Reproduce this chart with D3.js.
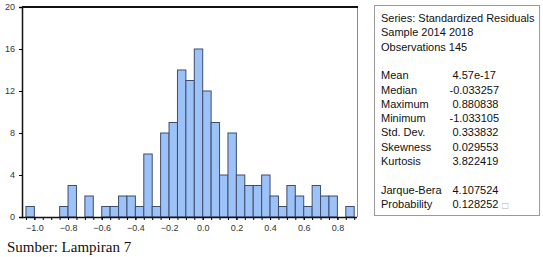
<!DOCTYPE html>
<html>
<head>
<meta charset="utf-8">
<script src="https://cdnjs.cloudflare.com/ajax/libs/d3/7.8.5/d3.min.js"></script>
<style>
  body { margin: 0; background: #fff; }
  svg { display: block; }
</style>
</head>
<body>
<div class="hist"></div>
<script>
// bin lower edges (width 0.05) and counts
var binStart = -1.05, binWidth = 0.05
var counts = [1, 0, 0, 0, 1, 3, 0, 2, 0, 1, 1, 2, 2, 1, 6, 1, 8, 9, 14, 13,
  16, 12, 9, 4, 8, 4, 3, 3, 4, 2, 1, 3, 2, 1, 3, 2, 2, 0, 1]
var yTicks = [0, 4, 8, 12, 16, 20]
var xTicks = [-1.0, -0.8, -0.6, -0.4, -0.2, 0.0, 0.2, 0.4, 0.6, 0.8]

var headerLines = ["Series: Standardized Residuals", "Sample 2014 2018", "Observations 145"]
var statNames = ["Mean", "Median", "Maximum", "Minimum", "Std. Dev.", "Skewness", "Kurtosis", "", "Jarque-Bera", "Probability"]
var statValues = ["4.57e-17", "-0.033257", "0.880838", "-1.033105", "0.333832", "0.029553", "3.822419", "", "4.107524", "0.128252"]

document.addEventListener("DOMContentLoaded", draw)

function draw() {
  var width = 543, height = 257

  var svg = d3.select(".hist").append("svg")
    .attr("width", width)
    .attr("height", height)

  var bins = counts.map((c, i) => {
    return { x0: binStart + i * binWidth, x1: binStart + (i + 1) * binWidth, count: c }
  })

  var x = d3.scaleLinear()
    .domain([-1.0735, 0.9165])
    .range([22, 357])
  var y = d3.scaleLinear()
    .domain([0, 20])
    .range([217, 7])

  // bars
  svg.append("g")
    .selectAll("rect")
    .data(bins.filter(d => d.count > 0))
    .enter().append("rect")
    .attr("x", d => x(d.x0))
    .attr("y", d => y(d.count))
    .attr("width", d => x(d.x1) - x(d.x0))
    .attr("height", d => y(0) - y(d.count))
    .attr("fill", "#9cc2f7")
    .attr("stroke", "#3f4d6e")
    .attr("stroke-width", 1)

  // frame
  svg.append("line")
    .attr("x1", 357.5).attr("x2", 357.5)
    .attr("y1", y(20)).attr("y2", y(0))
    .attr("stroke", "#8a8a8a")
  svg.append("line")
    .attr("x1", 22).attr("x2", 358)
    .attr("y1", y(20)).attr("y2", y(20))
    .attr("stroke", "#111").attr("stroke-width", 2)

  // y axis
  var yAxis = svg.append("g")
    .attr("transform", "translate(22,0)")
    .call(d3.axisLeft(y).tickValues(yTicks).tickSize(3).tickPadding(4))
  yAxis.select(".domain").attr("stroke", "#111").attr("stroke-width", 1.5)
  yAxis.selectAll("text")
    .attr("font-family", "Liberation Sans, Arial, sans-serif")
    .attr("font-size", 9)
    .attr("fill", "#333")

  // x axis: minor ticks on every bin edge, labels every 0.2
  var edges = d3.range(counts.length + 1).map(i => binStart + i * binWidth)
  var xMinor = svg.append("g")
    .attr("transform", `translate(0,${y(0)})`)
    .call(d3.axisBottom(x).tickValues(edges).tickSize(3).tickFormat(""))
  xMinor.select(".domain").remove()
  var xAxis = svg.append("g")
    .attr("transform", `translate(0,${y(0)})`)
    .call(d3.axisBottom(x).tickValues(xTicks).tickSize(3).tickPadding(5).tickFormat(d3.format(".1f")))
  xAxis.select(".domain")
    .attr("d", `M22,0.5H357`)
    .attr("stroke", "#111").attr("stroke-width", 1.5)
  xAxis.selectAll("text")
    .attr("font-family", "Liberation Sans, Arial, sans-serif")
    .attr("font-size", 9)
    .attr("fill", "#333")

  // statistics box
  svg.append("rect")
    .attr("x", 374.5).attr("y", 5.5)
    .attr("width", 165).attr("height", 210)
    .attr("fill", "#fff")
    .attr("stroke", "#9a9a9a")

  var lineY = i => 22 + i * 14.3
  var txt = svg.append("g")
    .attr("font-family", "Liberation Sans, Arial, sans-serif")
    .attr("font-size", 11)
    .attr("fill", "#111")

  txt.selectAll(".head")
    .data(headerLines)
    .enter().append("text")
    .attr("class", "head")
    .attr("x", 381)
    .attr("y", (d, i) => lineY(i))
    .text(d => d)

  txt.selectAll(".name")
    .data(statNames)
    .enter().append("text")
    .attr("class", "name")
    .attr("x", 381)
    .attr("y", (d, i) => lineY(i + 4))
    .text(d => d)

  txt.selectAll(".val")
    .data(statValues)
    .enter().append("text")
    .attr("class", "val")
    .attr("x", d => d[0] === "-" ? 449.5 : 452.5)
    .attr("y", (d, i) => lineY(i + 4))
    .text(d => d)

  txt.append("text")
    .attr("x", 501.5)
    .attr("y", lineY(13))
    .attr("font-family", "DejaVu Sans, sans-serif")
    .attr("font-size", 8)
    .attr("fill", "#b5b5b5")
    .text("□")

  // source caption
  svg.append("text")
    .attr("x", 7)
    .attr("y", 252)
    .attr("font-family", "Liberation Serif, Times New Roman, serif")
    .attr("font-size", 15)
    .attr("fill", "#111")
    .text("Sumber: Lampiran 7")
}
</script>
</body>
</html>
